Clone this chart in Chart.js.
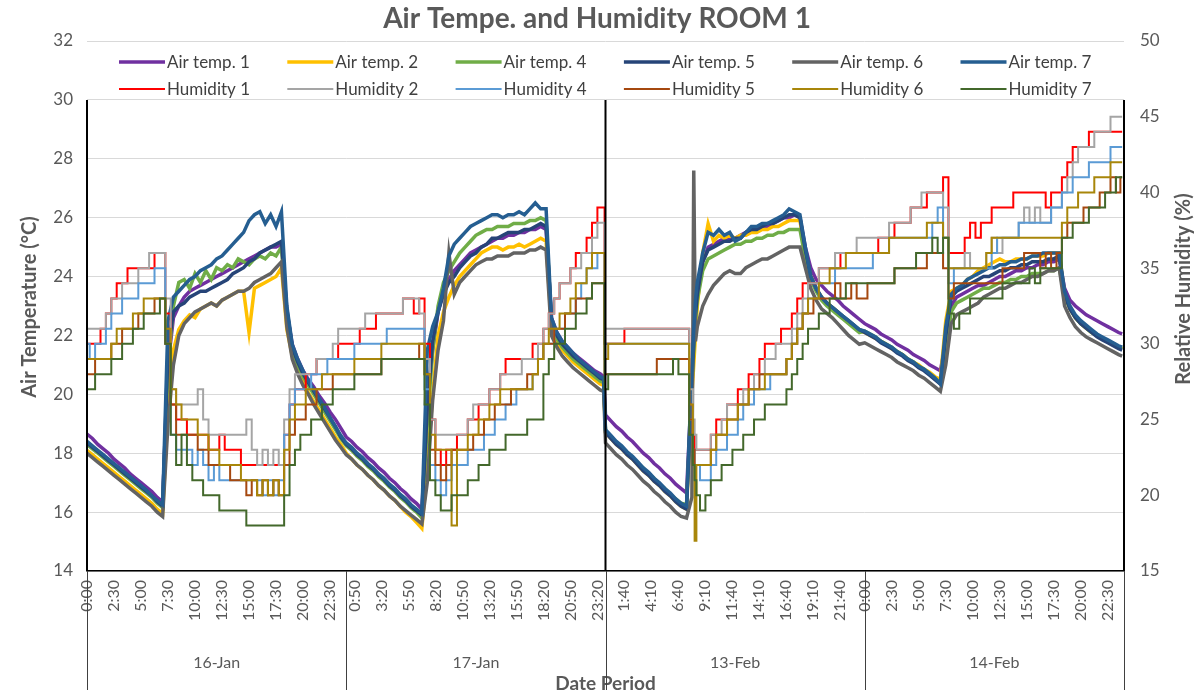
<!DOCTYPE html>
<html>
<head>
<meta charset="utf-8">
<script src="https://cdn.jsdelivr.net/npm/chart.js@4.4.1/dist/chart.umd.min.js"></script>
<style>
  html, body { margin: 0; padding: 0; background: #fff; }
  #wrap { width: 1195px; height: 694px; position: relative; }
</style>
</head>
<body>
<div id="wrap"><canvas id="roomChart"></canvas></div>
<script>
// Reading times, hours counted from 16-Jan 0:00 (each date panel is 24 h wide)
const hours = [
  0,0.5,1,1.5,2,2.5,3,3.5,4,4.5,5,5.5,6,6.5,7,7.5,8,8.5,9,9.5,10,10.5,11,11.5,12,12.5,13,13.5,14,14.5,15,15.5,16,16.5,17,17.5,18,18.5,19,19.5,20,20.5,21,21.5,22,22.5,23,23.5,
  24,24.5,25,25.5,26,26.5,27,27.5,28,28.5,29,29.5,30,30.5,31,31.5,32,32.5,33,33.5,34,34.5,35,35.5,36,36.5,37,37.5,38,38.5,39,39.5,40,40.5,41,41.5,42,42.5,43,43.5,44,44.5,45,45.5,46,46.5,47,47.5,47.83,
  48,48.5,49,49.5,50,50.5,51,51.5,52,52.5,53,53.5,54,54.5,55,55.5,56,56.17,56.33,56.5,57,57.5,58,58.5,59,59.5,60,60.5,61,61.5,62,62.5,63,63.5,64,64.5,65,65.5,66,66.5,67,67.5,68,68.5,69,69.5,70,70.5,71,71.5,
  72,72.5,73,73.5,74,74.5,75,75.5,76,76.5,77,77.5,78,78.5,79,79.5,80,80.5,81,81.5,82,82.5,83,83.5,84,84.5,85,85.5,86,86.5,87,87.5,88,88.5,89,89.5,90,90.5,91,91.5,92,92.5,93,93.5,94,94.5,95,95.5,95.83
];

const dayLabels = ['16-Jan', '17-Jan', '13-Feb', '14-Feb'];
const dayStartHours = [0, 24, 48, 72, 96];
const dividerHours = [0, 48, 96];

const tickHours = [
  0, 2.5, 5, 7.5, 10, 12.5, 15, 17.5, 20, 22.5,
  24.833, 27.333, 29.833, 32.333, 34.833, 37.333, 39.833, 42.333, 44.833, 47.333,
  49.667, 52.167, 54.667, 57.167, 59.667, 62.167, 64.667, 67.167, 69.667,
  72, 74.5, 77, 79.5, 82, 84.5, 87, 89.5, 92, 94.5
];
const tickLabels = [
  '0:00','2:30','5:00','7:30','10:00','12:30','15:00','17:30','20:00','22:30',
  '0:50','3:20','5:50','8:20','10:50','13:20','15:50','18:20','20:50','23:20',
  '1:40','4:10','6:40','9:10','11:40','14:10','16:40','19:10','21:40',
  '0:00','2:30','5:00','7:30','10:00','12:30','15:00','17:30','20:00','22:30'
];

// Air temperature, °C
const airTemp1 = [
  18.65,18.5,18.3,18.15,18.0,17.8,17.65,17.5,17.3,17.15,17.0,16.85,16.7,16.5,16.35,21.0,22.6,23.0,23.3,23.5,23.6,23.7,23.8,23.9,24.0,24.1,24.2,24.3,24.4,24.5,24.6,24.7,24.8,24.9,25.0,25.0,25.1,22.8,21.7,21.2,20.8,20.5,20.25,19.95,19.7,19.4,19.15,18.85,
  18.55,18.4,18.2,18.05,17.85,17.7,17.5,17.35,17.15,17.0,16.8,16.65,16.45,16.3,16.1,19.5,21.5,22.8,23.5,23.9,24.2,24.4,24.6,24.8,24.9,25.0,25.1,25.2,25.3,25.3,25.4,25.4,25.5,25.5,25.6,25.6,25.7,25.6,22.6,22.1,21.8,21.6,21.4,21.25,21.1,20.95,20.8,20.7,20.6,
  19.3,19.1,18.9,18.75,18.55,18.4,18.2,18.0,17.85,17.65,17.5,17.3,17.15,16.95,16.8,16.65,20.5,21.8,22.8,23.5,24.5,25.0,25.1,25.2,25.3,25.3,25.3,25.4,25.5,25.6,25.6,25.7,25.7,25.8,25.9,26.0,26.0,26.1,26.0,25.0,24.3,23.9,23.7,23.5,23.35,23.2,23.0,22.85,22.7,22.55,
  22.4,22.3,22.2,22.05,21.95,21.85,21.7,21.6,21.5,21.35,21.25,21.15,21.0,20.9,20.8,21.8,23.0,23.3,23.4,23.5,23.6,23.7,23.7,23.8,23.9,24.0,24.0,24.1,24.2,24.2,24.3,24.3,24.4,24.4,24.5,24.5,24.6,23.6,23.2,23.0,22.85,22.7,22.6,22.5,22.4,22.3,22.2,22.1,22.05
];
const airTemp2 = [
  18.1,17.95,17.8,17.65,17.5,17.35,17.2,17.05,16.9,16.75,16.6,16.45,16.3,16.1,15.95,19.5,21.5,22.2,22.5,22.7,22.6,22.9,23.0,23.1,23.0,23.2,23.3,23.4,23.5,23.5,22.1,23.6,23.7,23.8,23.9,24.0,24.3,22.2,21.3,20.9,20.4,20.05,19.75,19.45,19.15,18.85,18.55,18.3,
  18.0,17.8,17.6,17.45,17.25,17.1,16.9,16.75,16.55,16.4,16.2,16.0,15.85,15.65,15.45,17.5,20.0,22.0,22.8,23.3,23.7,24.0,24.2,24.4,24.6,24.8,24.9,25.0,25.0,24.9,25.0,25.0,25.1,25.0,25.1,25.2,25.3,25.2,22.2,21.8,21.5,21.3,21.1,20.95,20.8,20.65,20.5,20.35,20.3,
  18.7,18.5,18.3,18.15,17.95,17.8,17.6,17.4,17.25,17.05,16.9,16.7,16.55,16.35,16.2,16.1,20.0,21.0,22.0,23.0,24.8,25.8,25.2,25.4,25.3,25.4,25.3,25.4,25.4,25.5,25.5,25.6,25.6,25.7,25.7,25.8,25.9,25.9,25.9,24.8,24.0,23.6,23.3,23.1,22.95,22.8,22.6,22.45,22.3,22.15,
  22.1,22.0,21.9,21.8,21.7,21.55,21.45,21.35,21.2,21.1,21.0,20.85,20.75,20.6,20.5,22.5,23.5,23.6,23.7,23.9,24.0,24.2,24.3,24.4,24.5,24.6,24.5,24.5,24.6,24.6,24.6,24.7,24.7,24.7,24.8,24.8,24.8,23.4,22.9,22.6,22.4,22.25,22.1,22.0,21.9,21.8,21.7,21.6,21.55
];
const airTemp4 = [
  18.3,18.15,18.0,17.85,17.7,17.55,17.4,17.25,17.1,16.95,16.8,16.65,16.5,16.3,16.15,21.0,23.0,23.8,23.9,23.6,24.1,23.8,24.2,23.9,24.3,24.2,24.4,24.3,24.6,24.5,24.4,24.6,24.7,24.6,24.8,24.7,25.0,22.6,21.5,21.0,20.6,20.3,20.0,19.7,19.4,19.1,18.8,18.5,
  18.25,18.1,17.9,17.75,17.55,17.4,17.2,17.05,16.85,16.7,16.5,16.35,16.15,16.0,15.8,19.0,21.5,23.0,23.8,24.2,24.5,24.8,25.0,25.2,25.4,25.5,25.6,25.6,25.7,25.7,25.7,25.8,25.8,25.8,25.9,25.9,26.0,25.9,22.4,21.9,21.6,21.4,21.2,21.05,20.9,20.75,20.6,20.45,20.4,
  18.75,18.55,18.35,18.2,18.0,17.85,17.65,17.5,17.3,17.15,16.95,16.8,16.6,16.45,16.3,16.25,20.3,21.5,22.5,23.2,24.2,24.6,24.7,24.8,24.9,25.0,25.1,25.1,25.2,25.2,25.3,25.3,25.4,25.4,25.5,25.5,25.6,25.6,25.6,24.6,23.9,23.5,23.2,23.0,22.85,22.7,22.55,22.4,22.25,22.1,
  22.15,22.05,21.95,21.8,21.7,21.6,21.45,21.35,21.2,21.1,20.95,20.85,20.7,20.55,20.4,21.5,22.8,23.1,23.2,23.3,23.4,23.5,23.6,23.6,23.7,23.8,23.8,23.9,23.9,24.0,24.0,24.1,24.1,24.1,24.2,24.2,24.3,23.3,22.9,22.6,22.4,22.25,22.1,22.0,21.9,21.8,21.7,21.6,21.55
];
const airTemp5 = [
  18.35,18.2,18.05,17.9,17.75,17.6,17.45,17.3,17.15,17.0,16.85,16.7,16.55,16.35,16.2,21.5,22.8,23.0,23.1,23.3,23.4,23.5,23.5,23.6,23.7,23.8,23.9,24.1,24.2,24.3,24.5,24.6,24.8,24.9,25.0,25.1,25.2,22.9,21.6,21.1,20.7,20.4,20.1,19.8,19.5,19.2,18.9,18.55,
  18.3,18.15,17.95,17.8,17.6,17.45,17.25,17.1,16.9,16.75,16.55,16.4,16.2,16.05,15.9,19.5,21.8,22.8,23.4,23.8,24.0,24.3,24.5,24.7,24.8,25.0,25.1,25.3,25.3,25.4,25.5,25.5,25.5,25.6,25.6,25.7,25.8,25.7,22.5,22.0,21.7,21.5,21.3,21.15,21.0,20.85,20.7,20.55,20.5,
  18.7,18.5,18.3,18.15,17.95,17.8,17.6,17.4,17.25,17.05,16.9,16.7,16.55,16.35,16.2,16.1,20.5,21.7,22.7,23.4,24.5,24.9,25.0,25.1,25.2,25.2,25.3,25.3,25.5,25.6,25.6,25.7,25.8,25.8,25.9,26.0,26.1,26.1,26.0,24.9,24.0,23.6,23.3,23.1,22.95,22.8,22.65,22.5,22.35,22.2,
  22.1,22.0,21.9,21.75,21.65,21.55,21.4,21.3,21.15,21.05,20.9,20.8,20.65,20.5,20.35,22.0,23.3,23.5,23.6,23.7,23.8,23.9,24.0,24.0,24.1,24.2,24.2,24.3,24.3,24.4,24.4,24.5,24.5,24.5,24.6,24.6,24.7,23.4,22.9,22.6,22.4,22.25,22.1,21.95,21.85,21.75,21.65,21.55,21.5
];
const airTemp6 = [
  18.0,17.85,17.7,17.55,17.4,17.25,17.1,16.95,16.8,16.65,16.5,16.35,16.2,16.0,15.85,19.0,21.0,22.0,22.4,22.6,22.8,22.9,23.0,23.1,23.0,23.2,23.3,23.4,23.5,23.5,23.6,23.8,23.9,24.0,24.1,24.3,24.5,22.3,21.2,20.7,20.3,20.0,19.65,19.35,19.05,18.75,18.45,18.2,
  17.95,17.8,17.6,17.45,17.25,17.1,16.9,16.75,16.55,16.4,16.2,16.05,15.9,15.75,15.6,17.0,19.8,21.5,22.5,24.8,23.4,23.8,24.0,24.2,24.4,24.5,24.6,24.6,24.7,24.7,24.7,24.8,24.8,24.8,24.9,24.9,25.0,24.9,22.0,21.6,21.3,21.1,20.9,20.75,20.6,20.45,20.3,20.15,20.1,
  18.35,18.15,17.95,17.8,17.6,17.45,17.25,17.05,16.9,16.7,16.55,16.35,16.2,16.0,15.85,15.8,16.5,27.6,21.8,22.3,23.0,23.4,23.7,23.9,24.1,24.2,24.1,24.1,24.3,24.4,24.5,24.6,24.6,24.7,24.8,24.9,25.0,25.0,25.0,24.3,23.6,23.2,22.9,22.75,22.6,22.4,22.2,22.0,21.85,21.7,
  21.75,21.65,21.55,21.45,21.35,21.25,21.1,21.0,20.9,20.8,20.65,20.55,20.4,20.25,20.1,21.0,22.4,22.7,22.8,22.9,23.0,23.1,23.3,23.4,23.5,23.6,23.6,23.7,23.8,23.8,23.9,24.0,24.0,24.1,24.2,24.2,24.3,23.0,22.6,22.3,22.1,21.95,21.85,21.75,21.65,21.55,21.45,21.35,21.3
];
const airTemp7 = [
  18.4,18.25,18.1,17.95,17.8,17.65,17.5,17.35,17.2,17.05,16.9,16.75,16.55,16.4,16.25,22.5,23.3,23.5,23.7,23.9,24.0,24.2,24.3,24.4,24.6,24.7,24.9,25.1,25.3,25.5,25.9,26.1,26.2,25.8,26.1,25.7,26.2,23.0,21.7,21.2,20.8,20.45,20.15,19.85,19.55,19.2,18.9,18.6,
  18.35,18.2,18.0,17.85,17.65,17.5,17.3,17.15,16.95,16.8,16.6,16.45,16.25,16.1,15.95,21.5,22.3,22.8,23.6,24.7,25.1,25.3,25.5,25.7,25.8,25.9,26.0,26.1,26.1,26.0,26.1,26.1,26.2,26.1,26.3,26.5,26.3,26.3,22.6,22.1,21.8,21.6,21.4,21.2,21.05,20.9,20.75,20.6,20.55,
  18.8,18.6,18.4,18.25,18.05,17.9,17.7,17.5,17.35,17.15,17.0,16.8,16.65,16.45,16.3,16.2,20.9,22.2,23.2,23.8,24.8,25.5,25.4,25.6,25.4,25.5,25.2,25.3,25.5,25.7,25.7,25.8,25.8,25.9,26.0,26.1,26.3,26.2,26.1,25.0,24.0,23.6,23.3,23.1,22.95,22.8,22.65,22.5,22.35,22.2,
  22.15,22.05,21.95,21.8,21.7,21.6,21.45,21.35,21.2,21.1,20.95,20.85,20.7,20.55,20.35,22.3,23.4,23.6,23.7,23.9,24.0,24.1,24.2,24.3,24.3,24.4,24.4,24.5,24.5,24.6,24.6,24.7,24.7,24.8,24.8,24.8,24.8,23.5,23.0,22.7,22.5,22.35,22.2,22.05,21.95,21.85,21.75,21.65,21.6
];

// Relative humidity, %
const humidity1 = [
  30,30,30,31,32,33,34,34,35,35,35,35,35,36,36,32,26,25,25,24,24,24,24,23,23,24,23,23,23,22,22,22,22,22,22,22,22,24,26,27,27,28,28,29,29,29,29,30,
  30,30,30,31,31,31,32,32,32,32,32,33,33,32,33,30,25,23,22,23,23,24,24,25,25,26,26,27,27,28,29,29,29,29,29,30,30,31,32,33,34,34,35,36,36,37,38,39,39,
  30,30,30,30,31,31,31,31,31,31,31,31,31,31,31,31,26,24,23,23,23,23,24,25,25,26,26,27,27,28,28,29,30,30,30,31,31,32,33,34,34,34,35,35,35,35,36,36,36,36,
  36,36,36,37,37,37,38,38,38,39,39,39,40,40,40,41,36,36,36,37,38,37,38,38,39,39,39,39,40,40,40,40,40,40,39,40,40,41,42,43,43,43,44,44,44,44,44,44,44
];
const humidity2 = [
  31,31,31,31,32,33,33,34,34,34,35,35,36,36,36,33,27,26,26,26,26,27,25,24,24,24,24,24,24,24,25,23,22,23,22,23,22,25,27,28,28,28,28,29,29,29,30,31,
  31,31,31,31,32,32,32,32,32,32,32,33,33,33,32,29,25,24,24,24,24,24,24,25,26,26,26,27,27,28,28,28,28,29,29,29,30,31,32,33,34,34,35,35,36,36,37,38,38,
  31,31,31,31,31,31,31,31,31,31,31,31,31,31,31,31,27,25,24,23,23,23,24,24,25,26,26,26,27,27,28,28,29,29,30,30,30,31,32,33,34,34,35,35,35,36,36,36,36,37,
  37,37,37,37,37,38,38,38,38,39,39,40,40,40,40,39,35,35,35,36,35,35,35,36,37,36,37,37,37,38,39,38,39,38,38,39,39,40,41,42,43,43,43,44,44,44,45,45,45
];
const humidity4 = [
  30,29,30,30,31,32,32,33,33,33,34,34,34,35,35,30,24,23,23,23,22,23,22,21,22,21,21,21,21,21,21,21,21,20,21,20,21,24,26,27,27,27,28,28,28,29,29,29,
  29,29,30,30,30,30,30,30,31,31,31,31,31,31,31,27,22,21,20,21,22,22,22,23,23,23,24,24,25,25,26,26,27,27,27,28,29,30,30,31,31,32,32,33,34,35,35,36,36,
  30,30,30,30,30,30,30,30,30,30,30,30,30,30,30,30,25,23,22,22,21,21,22,23,23,24,24,25,26,26,27,27,27,28,28,28,29,30,31,32,33,33,34,34,34,35,35,35,35,35,
  35,35,36,36,36,37,37,37,37,37,37,37,37,38,39,37,34,35,35,35,35,35,35,35,36,37,37,37,37,38,38,38,38,38,38,39,39,40,40,41,41,41,42,42,42,42,43,43,43
];
const humidity5 = [
  28,28,29,29,29,30,30,31,31,31,32,32,32,33,33,30,26,24,24,24,24,23,23,22,22,22,22,21,21,21,20,21,20,21,20,21,20,22,24,25,25,26,26,27,27,27,28,28,
  28,28,28,28,28,28,28,29,29,29,29,29,29,29,30,28,23,22,21,22,23,23,23,23,24,24,25,25,26,26,26,27,27,27,28,28,29,30,30,31,31,32,32,33,33,33,34,34,34,
  28,28,28,28,28,28,28,28,28,28,29,29,29,29,29,29,25,23,22,22,22,22,23,24,24,25,25,26,26,27,27,28,28,28,28,28,29,30,31,32,32,33,33,33,33,34,33,33,34,33,
  33,34,34,34,34,34,35,35,35,35,35,35,36,36,36,35,33,34,34,34,34,34,34,34,34,34,35,35,35,35,36,36,36,35,36,35,36,37,38,38,38,39,39,39,40,40,41,40,41
];
const humidity6 = [
  29,29,29,29,29,30,31,31,31,32,32,33,33,33,33,31,27,26,25,25,25,24,24,23,23,22,22,22,22,21,21,21,20,21,20,21,20,23,25,26,26,27,27,27,28,28,28,28,
  28,28,29,29,29,29,29,30,30,30,30,30,30,30,30,28,24,23,23,23,18,23,23,24,24,25,25,26,26,27,27,27,27,27,27,28,29,30,31,31,32,32,33,34,34,35,36,36,36,
  29,30,30,30,30,30,30,30,30,30,30,30,30,30,30,30,26,22,17,22,22,22,23,24,24,25,25,26,26,27,27,27,28,28,28,28,29,30,31,32,33,33,34,34,35,35,35,36,36,36,
  36,36,36,36,36,37,37,37,37,37,37,37,38,38,38,37,35,35,35,35,35,35,35,36,37,37,37,37,37,37,37,37,37,37,37,37,37,38,39,39,40,40,40,41,41,41,42,42,42
];
const humidity7 = [
  27,27,28,28,28,29,29,30,30,31,31,32,32,32,33,30,24,22,24,22,21,21,20,20,20,19,19,19,19,19,18,18,18,18,18,18,18,20,22,23,24,24,25,25,26,26,27,27,
  27,27,28,28,28,28,28,29,29,29,29,29,29,29,29,26,21,20,19,19,20,20,20,21,21,22,22,23,23,23,24,24,24,24,25,25,25,28,29,30,30,31,31,32,32,33,34,34,34,
  27,28,28,28,28,28,28,28,28,28,28,28,28,29,28,28,24,22,21,20,19,20,21,21,22,22,23,23,24,24,25,25,26,26,26,26,27,28,29,30,31,31,32,32,33,33,33,34,34,34,
  34,34,34,34,34,34,35,35,35,35,36,36,36,37,36,37,32,31,32,32,33,33,33,33,33,33,34,34,34,34,34,35,34,35,35,35,35,37,37,38,38,38,39,39,39,40,40,41,41
];

const series = [
  { label: 'Air temp. 1', values: airTemp1, color: '#7030A0', axis: 'y' },
  { label: 'Air temp. 2', values: airTemp2, color: '#FFC000', axis: 'y' },
  { label: 'Air temp. 4', values: airTemp4, color: '#70AD47', axis: 'y' },
  { label: 'Air temp. 5', values: airTemp5, color: '#264478', axis: 'y' },
  { label: 'Air temp. 6', values: airTemp6, color: '#636363', axis: 'y' },
  { label: 'Air temp. 7', values: airTemp7, color: '#255E91', axis: 'y' },
  { label: 'Humidity 1', values: humidity1, color: '#FF0000', axis: 'y1' },
  { label: 'Humidity 2', values: humidity2, color: '#A5A5A5', axis: 'y1' },
  { label: 'Humidity 4', values: humidity4, color: '#5B9BD5', axis: 'y1' },
  { label: 'Humidity 5', values: humidity5, color: '#A5480F', axis: 'y1' },
  { label: 'Humidity 6', values: humidity6, color: '#A8860A', axis: 'y1' },
  { label: 'Humidity 7', values: humidity7, color: '#43682B', axis: 'y1' }
];

series.forEach(s => {
  if (s.values.length !== hours.length) console.warn(s.label, s.values.length, hours.length);
});

const FONT = 'Lato, "Open Sans", sans-serif';
const TEXT = '#595959';

// Title, axis titles, date groups, dividers and the in-plot legend
const overlayPlugin = {
  id: 'overlay',
  afterDatasetsDraw(chart) {
    const { ctx, scales: { x, y } } = chart;
    ctx.save();
    ctx.strokeStyle = '#000';
    ctx.lineWidth = 2;
    dividerHours.forEach(h => {
      const px = x.getPixelForValue(h);
      ctx.beginPath();
      ctx.moveTo(px, y.getPixelForValue(30));
      ctx.lineTo(px, y.getPixelForValue(14));
      ctx.stroke();
    });
    ctx.restore();
  },
  afterDraw(chart) {
    const { ctx, chartArea, scales: { x } } = chart;
    ctx.save();

    // title
    ctx.fillStyle = TEXT;
    ctx.textAlign = 'center';
    ctx.textBaseline = 'middle';
    ctx.font = 'bold 28px ' + FONT;
    ctx.fillText('Air Tempe. and Humidity ROOM 1', 597, 19);

    // axis titles
    ctx.font = 'bold 20px ' + FONT;
    ctx.save();
    ctx.translate(30, 307);
    ctx.rotate(-Math.PI / 2);
    ctx.fillText('Air Temperature (°C)', 0, 0);
    ctx.restore();
    ctx.save();
    ctx.translate(1184, 289);
    ctx.rotate(-Math.PI / 2);
    ctx.fillText('Relative Humidity (%)', 0, 0);
    ctx.restore();

    ctx.font = 'bold 19px ' + FONT;
    ctx.fillText('Date Period', (chartArea.left + chartArea.right) / 2, 684);

    // date groups under the time labels
    ctx.strokeStyle = '#404040';
    ctx.lineWidth = 1;
    dayStartHours.forEach(h => {
      const px = Math.round(x.getPixelForValue(h)) + 0.5;
      ctx.beginPath();
      ctx.moveTo(px, chartArea.bottom);
      ctx.lineTo(px, 690);
      ctx.stroke();
    });
    ctx.font = '16px ' + FONT;
    dayLabels.forEach((lab, i) => {
      const mid = (x.getPixelForValue(dayStartHours[i]) + x.getPixelForValue(dayStartHours[i + 1])) / 2;
      ctx.fillText(lab, mid, 663);
    });

    // legend: 6 columns, 2 rows, drawn inside the plot
    ctx.textAlign = 'left';
    ctx.font = '17px ' + FONT;
    chart.data.datasets.forEach((ds, i) => {
      const col = i % 6, row = Math.floor(i / 6);
      const lx = 119 + col * 168.3;
      const ly = 62 + row * 27;
      ctx.strokeStyle = ds.borderColor;
      ctx.lineWidth = ds.borderWidth;
      ctx.beginPath();
      ctx.moveTo(lx, ly);
      ctx.lineTo(lx + 46, ly);
      ctx.stroke();
      ctx.fillStyle = '#404040';
      ctx.fillText(ds.label, lx + 48, ly + 1);
    });
    ctx.restore();
  }
};

new Chart(document.getElementById('roomChart'), {
  type: 'line',
  data: {
    datasets: series.map((s, i) => ({
      label: s.label,
      data: hours.map((h, k) => ({ x: h, y: s.values[k] })),
      yAxisID: s.axis,
      borderColor: s.color,
      backgroundColor: s.color,
      borderWidth: s.axis === 'y' ? 3.5 : 2,
      stepped: s.axis === 'y1' ? 'middle' : false,
      pointRadius: 0,
      tension: 0,
      fill: false,
      order: series.length - i
    }))
  },
  options: {
    responsive: true,
    maintainAspectRatio: false,
    animation: false,
    devicePixelRatio: 1,
    layout: { padding: { top: 41, left: 0, right: 0, bottom: 0 } },
    plugins: {
      legend: { display: false },
      title: { display: false },
      tooltip: { enabled: false }
    },
    scales: {
      x: {
        type: 'linear',
        min: 0,
        max: 96,
        grid: { display: false, drawTicks: false },
        border: { display: true, color: '#000', width: 1.5 },
        afterBuildTicks: scale => { scale.ticks = tickHours.map(v => ({ value: v })); },
        afterFit: scale => { scale.height = 123; },
        ticks: {
          autoSkip: false,
          minRotation: 90,
          maxRotation: 90,
          padding: 9,
          color: TEXT,
          font: { family: FONT, size: 16 },
          callback: (v, i) => tickLabels[i]
        }
      },
      y: {
        position: 'left',
        min: 14,
        max: 32,
        ticks: { stepSize: 2, padding: 14, color: TEXT, font: { family: FONT, size: 17 } },
        grid: { color: '#d9d9d9', drawTicks: false },
        border: { display: false },
        afterFit: scale => { scale.width = 87; }
      },
      y1: {
        position: 'right',
        min: 15,
        max: 50,
        ticks: { stepSize: 5, padding: 16, color: TEXT, font: { family: FONT, size: 17 } },
        grid: { display: false, drawTicks: false },
        border: { display: false },
        afterFit: scale => { scale.width = 71; }
      }
    }
  },
  plugins: [overlayPlugin]
});
</script>
</body>
</html>
